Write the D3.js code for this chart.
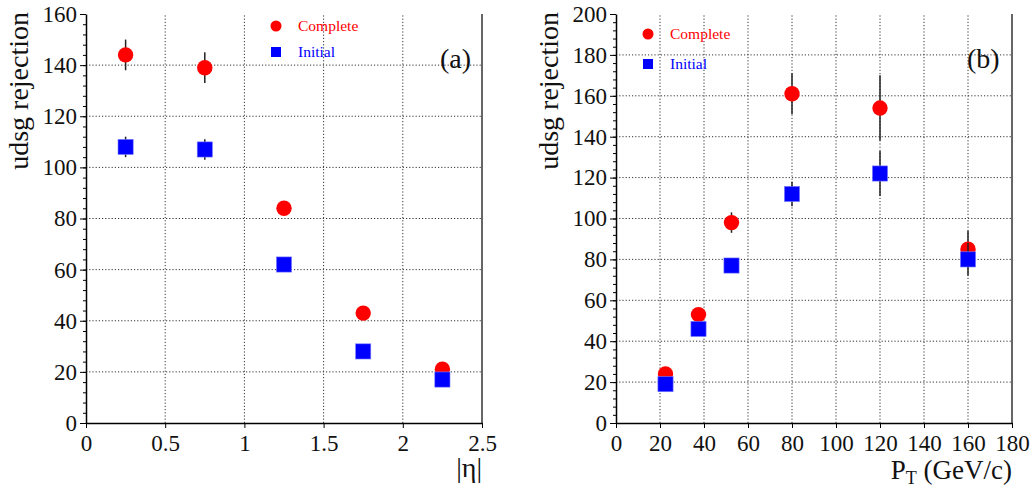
<!DOCTYPE html>
<html>
<head>
<meta charset="utf-8">
<script src="https://cdn.jsdelivr.net/npm/d3@7"></script>
<style>
    body { margin: 0; background: #fff; }
    svg, svg text { font-family: "Liberation Serif", "Times New Roman", serif !important; }
    .grid line { stroke: #333; stroke-width: 1; stroke-dasharray: 1.2, 2; }
</style>
</head>
<body>
<div class="chart"></div>
<script>
// panel (a): rejection vs |eta|
var etaBins = [0.25, 0.75, 1.25, 1.75, 2.25];
var etaComplete = [144, 139, 84, 43, 21];
var etaCompleteErr = [6, 6, 0, 0, 0];
var etaInitial = [108, 107, 62, 28, 17];
var etaInitialErr = [4, 4, 0, 0, 0];
var etaTicks = [0, 0.5, 1, 1.5, 2, 2.5];

// panel (b): rejection vs PT
var ptBins = [22.5, 37.5, 52.5, 80, 120, 160];
var ptComplete = [24, 53, 98, 161, 154, 85];
var ptCompleteErr = [0, 0, 5, 10, 16, 9];
var ptInitial = [19, 46, 77, 112, 122, 80];
var ptInitialErr = [0, 0, 0, 6, 11, 8];
var ptTicks = [0, 20, 40, 60, 80, 100, 120, 140, 160, 180];

var seriesNames = ['Complete', 'Initial'];
var seriesColors = ['#ff0000', '#0000ff'];

var width = 1030,
    height = 488;

var svg = d3.select('.chart').append('svg')
    .attr('width', width)
    .attr('height', height);

function drawPanel(opt) {
    var x = d3.scaleLinear().domain(opt.xDomain).range([opt.left, opt.right]);
    var y = d3.scaleLinear().domain(opt.yDomain).range([opt.bottom, opt.top]);
    var g = svg.append('g');

    // grid
    var grid = g.append('g').attr('class', 'grid');
    grid.selectAll('.gx')
        .data(opt.xTicks.filter(function(d) { return d > opt.xDomain[0] && d < opt.xDomain[1]; }))
        .enter().append('line')
        .attr('x1', function(d) { return x(d); })
        .attr('x2', function(d) { return x(d); })
        .attr('y1', opt.bottom)
        .attr('y2', opt.top);
    grid.selectAll('.gy')
        .data(d3.range(opt.yDomain[0] + opt.yStep, opt.yDomain[1], opt.yStep))
        .enter().append('line')
        .attr('x1', opt.left)
        .attr('x2', opt.right)
        .attr('y1', function(d) { return y(d); })
        .attr('y2', function(d) { return y(d); });

    // right frame
    g.append('line')
        .attr('x1', opt.right).attr('x2', opt.right)
        .attr('y1', opt.top).attr('y2', opt.bottom)
        .attr('stroke', '#000').attr('stroke-width', 1.2);

    // y minor ticks
    g.append('g')
        .attr('transform', 'translate(' + opt.left + ',0)')
        .call(d3.axisLeft(y).tickValues(d3.range(opt.yDomain[0], opt.yDomain[1], opt.yStep / 5)).tickSize(3).tickFormat(''))
        .call(function(a) { a.select('.domain').remove(); });

    // y axis
    var ya = g.append('g')
        .attr('transform', 'translate(' + opt.left + ',0)')
        .call(d3.axisLeft(y).tickValues(d3.range(opt.yDomain[0], opt.yDomain[1] + 1, opt.yStep)).tickSize(6).tickSizeOuter(0).tickPadding(3))
        .attr('font-family', null)
        .attr('font-size', null);
    ya.select('.domain').attr('stroke-width', 1.5);
    ya.selectAll('text').style('font-size', '23px').attr('fill', '#111');

    // x axis
    var xa = g.append('g')
        .attr('transform', 'translate(0,' + opt.bottom + ')')
        .call(d3.axisBottom(x).tickValues(opt.xTicks).tickSize(5).tickSizeOuter(0).tickFormat(d3.format('')))
        .attr('font-family', null)
        .attr('font-size', null);
    xa.select('.domain').attr('stroke-width', 1.5);
    xa.selectAll('text').style('font-size', '23px').attr('fill', '#111')
        .attr('y', 28).attr('dy', 0);

    // y title
    g.append('text')
        .attr('transform', 'translate(' + opt.yTitleX + ',' + (opt.top - 2) + ') rotate(-90)')
        .attr('text-anchor', 'end')
        .attr('font-size', 28)
        .attr('fill', '#111')
        .text('udsg rejection');

    // panel label
    g.append('text')
        .attr('x', opt.labelX).attr('y', 68)
        .attr('font-size', 28)
        .attr('fill', '#111')
        .text(opt.label);

    // markers
    function errBars(xs, ys, es) {
        g.append('g').selectAll('line')
            .data(xs.map(function(d, i) { return {x: d, y: ys[i], e: es[i]}; }).filter(function(d) { return d.e > 0; }))
            .enter().append('line')
            .attr('x1', function(d) { return x(d.x); })
            .attr('x2', function(d) { return x(d.x); })
            .attr('y1', function(d) { return y(d.y - d.e); })
            .attr('y2', function(d) { return y(d.y + d.e); })
            .attr('stroke', '#222')
            .attr('stroke-width', 1.5);
    }

    errBars(opt.xs, opt.complete, opt.completeErr);
    g.append('g').selectAll('circle')
        .data(opt.complete)
        .enter().append('circle')
        .attr('cx', function(d, i) { return x(opt.xs[i]); })
        .attr('cy', function(d) { return y(d); })
        .attr('r', 7.7)
        .attr('fill', seriesColors[0]);

    errBars(opt.xs, opt.initial, opt.initialErr);
    g.append('g').selectAll('rect')
        .data(opt.initial)
        .enter().append('rect')
        .attr('x', function(d, i) { return x(opt.xs[i]) - 7.6; })
        .attr('y', function(d) { return y(d) - 7.6; })
        .attr('width', 15.2)
        .attr('height', 15.2)
        .attr('fill', seriesColors[1])
        .attr('stroke', '#8080ff')
        .attr('stroke-width', 0.6);

    // legend
    var lg = g.append('g').attr('transform', 'translate(' + opt.legendX + ',' + opt.legendY + ')');
    lg.append('circle').attr('cx', 0).attr('cy', 0).attr('r', 5.5).attr('fill', seriesColors[0]);
    lg.append('rect').attr('x', -5).attr('y', opt.legendGap - 5).attr('width', 10).attr('height', 10).attr('fill', seriesColors[1]);
    lg.selectAll('text')
        .data(seriesNames)
        .enter().append('text')
        .attr('x', 22)
        .attr('y', function(d, i) { return i * opt.legendGap + 5; })
        .attr('font-size', 15.5)
        .attr('fill', function(d, i) { return seriesColors[i]; })
        .text(function(d) { return d; });

    return g;
}

var ga = drawPanel({
    xDomain: [0, 2.5], yDomain: [0, 160], yStep: 20,
    left: 86, right: 482, top: 14, bottom: 423,
    xTicks: etaTicks,
    xs: etaBins,
    complete: etaComplete, completeErr: etaCompleteErr,
    initial: etaInitial, initialErr: etaInitialErr,
    yTitleX: 28, label: '(a)', labelX: 440,
    legendX: 276, legendY: 26, legendGap: 26
});

ga.append('text')
    .attr('x', 482).attr('y', 477)
    .attr('text-anchor', 'end')
    .attr('font-size', 28)
    .attr('fill', '#111')
    .text('|η|');

var gb = drawPanel({
    xDomain: [0, 180], yDomain: [0, 200], yStep: 20,
    left: 616, right: 1012, top: 14, bottom: 423,
    xTicks: ptTicks,
    xs: ptBins,
    complete: ptComplete, completeErr: ptCompleteErr,
    initial: ptInitial, initialErr: ptInitialErr,
    yTitleX: 558, label: '(b)', labelX: 967,
    legendX: 648, legendY: 34, legendGap: 30
});

var pt = gb.append('text')
    .attr('x', 1012).attr('y', 479)
    .attr('text-anchor', 'end')
    .attr('font-size', 27)
    .attr('fill', '#111');
pt.append('tspan').text('P');
pt.append('tspan').attr('font-size', 18).attr('dy', 5).text('T');
pt.append('tspan').attr('dy', -5).text(' (GeV/c)');
</script>
</body>
</html>
